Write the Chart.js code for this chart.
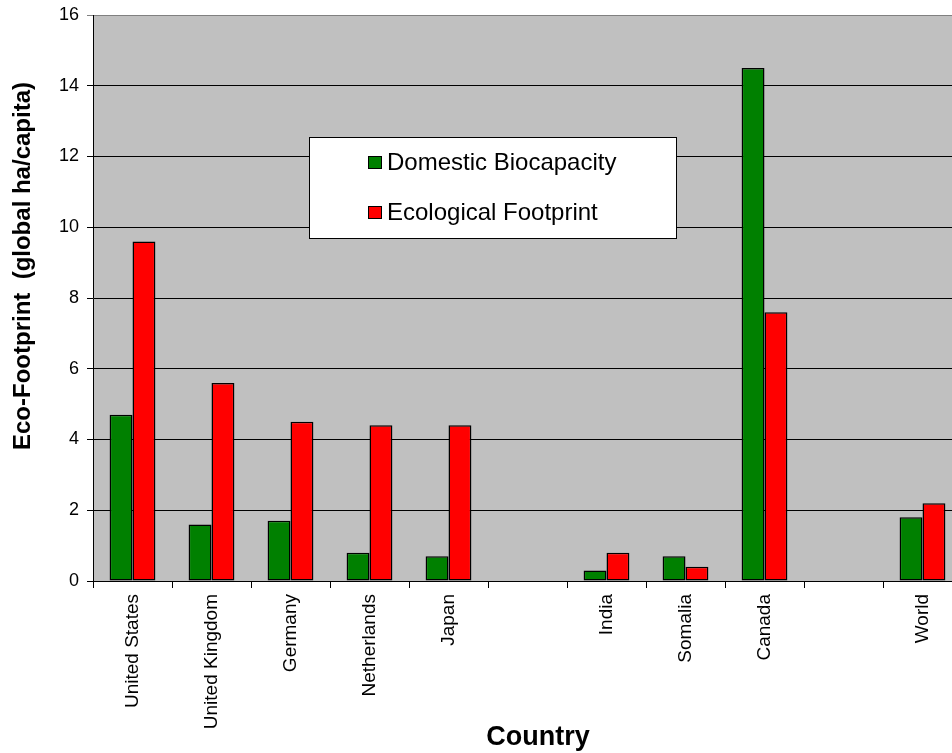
<!DOCTYPE html>
<html>
<head>
<meta charset="utf-8">
<script src="https://cdn.jsdelivr.net/npm/chart.js@4.4.1/dist/chart.umd.min.js"></script>
<style>
  html, body { margin: 0; padding: 0; background: #fff; overflow: hidden; }
  #wrap { width: 952px; height: 753px; overflow: hidden; }
</style>
</head>
<body>
<div id="wrap"><canvas id="myChart" width="970" height="753"></canvas></div>
<script>
const countries = ["United States", "United Kingdom", "Germany", "Netherlands", "Japan", "",
  "India", "Somalia", "Canada", "", "World"];
const biocapacity = [4.7, 1.6, 1.7, 0.8, 0.7, null, 0.3, 0.7, 14.5, null, 1.8];
const footprint = [9.6, 5.6, 4.5, 4.4, 4.4, null, 0.8, 0.4, 7.6, null, 2.2];
const yTicks = [0, 2, 4, 6, 8, 10, 12, 14, 16];

const FONT = "'Liberation Sans', Arial, sans-serif";

// grey plot area, like the old Excel charts
const plotBackground = {
  id: "plotBackground",
  beforeDraw(chart) {
    const a = chart.chartArea;
    const ctx = chart.ctx;
    ctx.save();
    ctx.fillStyle = "#c0c0c0";
    ctx.fillRect(a.left, a.top, a.right - a.left, a.bottom - a.top);
    ctx.restore();
  },
};

// legend box inside the plot + axis titles
const extras = {
  id: "extras",
  afterDraw(chart) {
    const a = chart.chartArea;
    const ctx = chart.ctx;
    ctx.save();

    const bx = a.left + 216, by = a.top + 122, bw = 367, bh = 101;
    ctx.fillStyle = "#fff";
    ctx.fillRect(bx, by, bw, bh);
    ctx.strokeStyle = "#000";
    ctx.lineWidth = 1;
    ctx.strokeRect(bx + 0.5, by + 0.5, bw, bh);

    ctx.font = "24px " + FONT;
    ctx.textBaseline = "middle";
    chart.data.datasets.forEach((ds, i) => {
      const cy = by + 25 + i * 50;
      ctx.fillStyle = ds.backgroundColor;
      ctx.fillRect(bx + 59, cy - 6, 13, 12);
      ctx.strokeStyle = "#000";
      ctx.strokeRect(bx + 59.5, cy - 5.5, 13, 12);
      ctx.fillStyle = "#000";
      ctx.fillText(ds.label, bx + 78, cy + 1);
    });

    ctx.fillStyle = "#000";
    ctx.textAlign = "center";
    ctx.textBaseline = "middle";
    ctx.font = "bold 27px " + FONT;
    ctx.fillText("Country", 538, 738);

    ctx.translate(23, 266);
    ctx.rotate(-Math.PI / 2);
    ctx.font = "bold 24px " + FONT;
    ctx.fillText("Eco-Footprint  (global ha/capita)", 0, 0);
    ctx.restore();
  },
};

var ctx = document.getElementById("myChart").getContext("2d");
var myChart = new Chart(ctx, {
  type: "bar",
  data: {
    labels: countries,
    datasets: [
      {
        label: "Domestic Biocapacity",
        data: biocapacity,
        backgroundColor: "#008000",
        borderColor: "#000",
        borderWidth: 1.5,
        borderSkipped: false,
      },
      {
        label: "Ecological Footprint",
        data: footprint,
        backgroundColor: "#ff0000",
        borderColor: "#000",
        borderWidth: 1.5,
        borderSkipped: false,
      },
    ],
  },
  options: {
    responsive: false,
    animation: false,
    devicePixelRatio: 1,
    categoryPercentage: 0.58,
    barPercentage: 1,
    layout: { padding: { left: 0, top: 15, right: 8, bottom: 0 } },
    plugins: {
      legend: { display: false },
      tooltip: { enabled: false },
    },
    scales: {
      x: {
        afterFit(scale) { scale.height = 172; },
        grid: {
          offset: true,
          drawOnChartArea: false,
          drawTicks: true,
          tickLength: 7,
          color: "#000",
        },
        border: { color: "#000", width: 1 },
        ticks: {
          color: "#000",
          font: { family: FONT, size: 19 },
          minRotation: 90,
          maxRotation: 90,
          autoSkip: false,
          padding: 6,
        },
      },
      y: {
        min: 0,
        max: 16,
        afterFit(scale) {
          scale.width = 93;
          scale.paddingTop = 0;
          scale.paddingBottom = 0;
        },
        afterBuildTicks(scale) { scale.ticks = yTicks.map((v) => ({ value: v })); },
        grid: {
          color: (c) => (c.tick && c.tick.value === 16 ? "#808080" : "#000"),
          tickLength: 6,
          lineWidth: 1,
        },
        border: { color: "#000", width: 1 },
        ticks: {
          color: "#000",
          font: { family: FONT, size: 18 },
          padding: 8,
        },
      },
    },
  },
  plugins: [plotBackground, extras],
});
</script>
</body>
</html>
